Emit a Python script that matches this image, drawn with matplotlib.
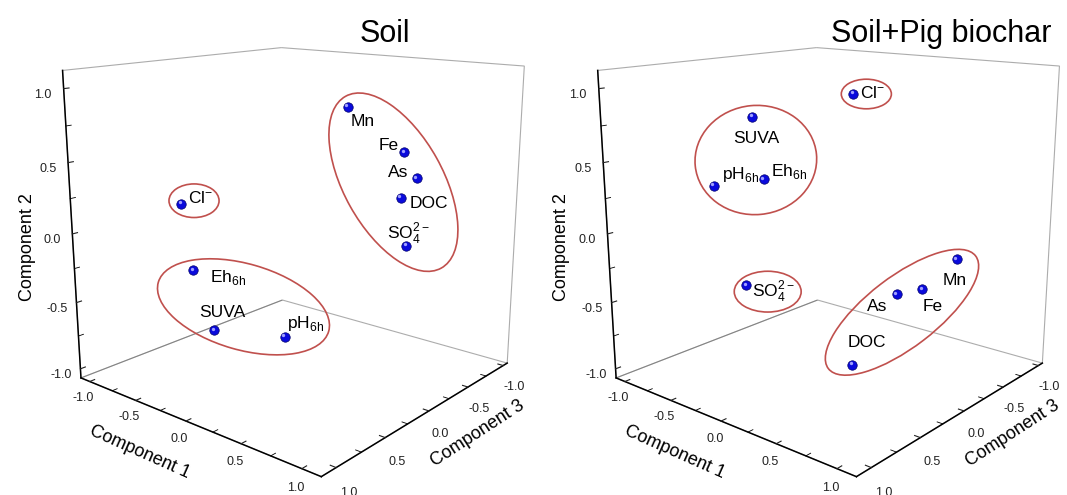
import numpy as np
import matplotlib
matplotlib.use('Agg')
import matplotlib.pyplot as plt
from matplotlib.patches import Ellipse
from matplotlib.ticker import MultipleLocator, FormatStrFormatter, NullFormatter
from mpl_toolkits.mplot3d import proj3d

plt.rcParams['font.family'] = ['Liberation Sans', 'DejaVu Sans']
plt.rcParams['mathtext.fontset'] = 'custom'
plt.rcParams['mathtext.rm'] = 'Liberation Sans'
plt.rcParams['axes.unicode_minus'] = False

### variables and their labels
names = ['Mn', 'Fe', 'As', 'DOC', 'SO4', 'Cl', 'Eh', 'SUVA', 'pH']
labels = {'Mn': 'Mn', 'Fe': 'Fe', 'As': 'As', 'DOC': 'DOC',
          'SO4': r'SO$_{\mathregular{4}}^{\mathregular{2-}}$',
          'Cl': r'Cl$^{\mathregular{-}}$',
          'Eh': r'Eh$_{\mathregular{6h}}$',
          'SUVA': 'SUVA',
          'pH': r'pH$_{\mathregular{6h}}$'}

### Soil loadings (component 1, 2, 3)
soil_c1 = [0.04, 0.55, 0.66, 0.53, 0.59, -0.68, -0.68, -0.37, 0.39]
soil_c2 = [0.80, 0.53, 0.36, 0.20, -0.14, 0.16, -0.36, -0.72, -0.55]
soil_c3 = [-0.50, -0.50, -0.50, -0.50, -0.50, 0.50, 0.40, 0.50, 0.60]
soil_groups = [['Mn', 'Fe', 'As', 'DOC', 'SO4'], ['Cl'], ['Eh', 'SUVA', 'pH']]

### Soil+Pig biochar loadings
pig_c1 = [0.79, 0.57, 0.42, 0.34, -0.29, -0.24, -0.30, -0.60, -0.59]
pig_c2 = [-0.18, -0.42, -0.46, -0.89, -0.34, 0.87, 0.37, 0.75, 0.32]
pig_c3 = [-0.40, -0.30, -0.20, 0.20, 0.60, -0.50, 0.40, 0.20, 0.60]
pig_groups = [['Mn', 'Fe', 'As', 'DOC'], ['Cl'], ['SO4'], ['Eh', 'SUVA', 'pH']]

# label offsets in pixels (dx, dy, ha)
soil_offsets = {'Mn': (3, -15, 'left'), 'Fe': (-6, 7, 'right'),
                'As': (-8, 6, 'right'), 'DOC': (9, -6, 'left'),
                'SO4': (2, 12, 'center'), 'Cl': (7, 6, 'left'),
                'Eh': (17, -7, 'left'), 'SUVA': (8, 18, 'center'),
                'pH': (2, 13, 'left')}
pig_offsets = {'Mn': (-2, -21, 'center'), 'Fe': (10, -17, 'center'),
               'As': (-9, -13, 'right'), 'DOC': (15, 22, 'center'),
               'SO4': (6, -6, 'left'), 'Cl': (7, 1, 'left'),
               'Eh': (7, 8, 'left'), 'SUVA': (4, -22, 'center'),
               'pH': (8, 11, 'left')}

W, H = 1067, 495
fig = plt.figure(figsize=(W / 100, H / 100), dpi=100)

def setup_axes(rect):
    ax = fig.add_axes(rect, projection='3d', proj_type='persp', focal_length=0.378)
    ax.view_init(elev=15, azim=40)
    ax.set_box_aspect((1, 1, 0.993), zoom=1.066)
    ax.set_xlim(-1.06, 1.14)
    ax.set_ylim(-1.10, 1.15)
    ax.set_zlim(-1.07, 1.12)
    ax.grid(False)
    ax.patch.set_alpha(0)
    for axis in (ax.xaxis, ax.yaxis, ax.zaxis):
        axis.set_major_locator(MultipleLocator(0.5))
        axis.set_minor_locator(MultipleLocator(0.25))
        axis.set_major_formatter(FormatStrFormatter('%.1f'))
        axis.set_minor_formatter(NullFormatter())
        axis.pane.fill = False
        axis.pane.set_edgecolor('#5a5a5a')
        axis.pane.set_linewidth(0.8)
        axis.line.set_color('black')
        axis.line.set_linewidth(1.1)
        axis._axinfo['tick']['inward_factor'] = 0.0
        axis._axinfo['tick']['outward_factor'] = 0.25
    ax.tick_params(labelsize=9, colors='#222222', pad=0)
    ax.yaxis.set_tick_params(pad=-3)
    return ax

ax1 = setup_axes([0.04096, 0.0313, 0.4639, 1.0])
ax2 = setup_axes([0.5425, 0.0313, 0.4639, 1.0])

panels = [(ax1, soil_c1, soil_c2, soil_c3, soil_groups, soil_offsets, 0),
          (ax2, pig_c1, pig_c2, pig_c3, pig_groups, pig_offsets, 535)]

for ax, c1, c2, c3, groups, offs, shift in panels:
    ax.scatter(c3, c1, c2, s=46, c='#0a0adc', edgecolors='#00006a',
               linewidths=0.5, depthshade=False)

fig.text(385 / W, 1 - 42 / H, 'Soil', fontsize=22, ha='center', va='baseline')
fig.text(941 / W, 1 - 42 / H, 'Soil+Pig biochar', fontsize=22, ha='center', va='baseline')

fig.canvas.draw()
renderer = fig.canvas.get_renderer()

ov = fig.add_axes([0, 0, 1, 1])
ov.set_xlim(0, W)
ov.set_ylim(0, H)
ov.axis('off')

def min_ellipse(P, tol=1e-6):
    # minimum area ellipse round the points (Khachiyan)
    N, d = P.shape
    Q = np.vstack([P.T, np.ones(N)])
    w = np.ones(N) / N
    for _ in range(5000):
        X = Q @ np.diag(w) @ Q.T
        M = np.einsum('ij,ji->i', Q.T @ np.linalg.inv(X), Q)
        j = np.argmax(M)
        step = (M[j] - d - 1) / ((d + 1) * (M[j] - 1))
        nw = (1 - step) * w
        nw[j] += step
        done = np.abs(nw - w).sum() < tol
        w = nw
        if done:
            break
    c = P.T @ w
    A = np.linalg.inv(P.T @ np.diag(w) @ P - np.outer(c, c)) / d
    vals, vecs = np.linalg.eigh(A)
    return c, 1 / np.sqrt(vals), vecs

ring = np.linspace(0, 2 * np.pi, 12, endpoint=False)

for ax, c1, c2, c3, groups, offs, shift in panels:
    px, py, _ = proj3d.proj_transform(np.array(c3), np.array(c1), np.array(c2), ax.M)
    disp = ax.transData.transform(np.column_stack([px, py]))
    pos = dict(zip(names, disp))
    boxes = {}
    for n in names:
        x, y = pos[n]
        dx, dy, ha = offs[n]
        t = ov.text(x + dx, y + dy, labels[n], fontsize=12.5, ha=ha, va='center')
        boxes[n] = t.get_window_extent(renderer)
        ov.plot(x - 1.4, y + 1.4, 'o', ms=2.4, color='#a0a0ff', mec='none')
    for g in groups:
        allp = []
        for n in g:
            x, y = pos[n]
            allp += list(zip(x + 6 * np.cos(ring), y + 6 * np.sin(ring)))
            b = boxes[n].shrunk(1.0, 0.85)
            allp += [(b.x0, b.y0), (b.x1, b.y0), (b.x0, b.y1), (b.x1, b.y1)]
        allp = np.array(allp)
        if len(g) == 1:
            lo, hi = allp.min(axis=0), allp.max(axis=0)
            e = Ellipse((lo + hi) / 2, hi[0] - lo[0] + 12, hi[1] - lo[1] + 16)
        else:
            c, r, vecs = min_ellipse(allp)
            angle = np.degrees(np.arctan2(vecs[1, 0], vecs[0, 0]))
            e = Ellipse(c, 2 * r[0] + 8, 2 * r[1] + 10, angle=angle)
        e.set_fill(False)
        e.set_edgecolor('#c0504d')
        e.set_linewidth(1.2)
        ov.add_patch(e)

    # axis titles
    ov.text(27 + shift, H - 247, 'Component 2', fontsize=13, rotation=90,
            ha='center', va='center')
    ov.text(140 + shift, H - 452, 'Component 1', fontsize=13, rotation=-24,
            ha='center', va='center', rotation_mode='anchor')
    ov.text(478 + shift, H - 433, 'Component 3', fontsize=13, rotation=33,
            ha='center', va='center', rotation_mode='anchor')

fig.savefig('out.png', dpi=100)
